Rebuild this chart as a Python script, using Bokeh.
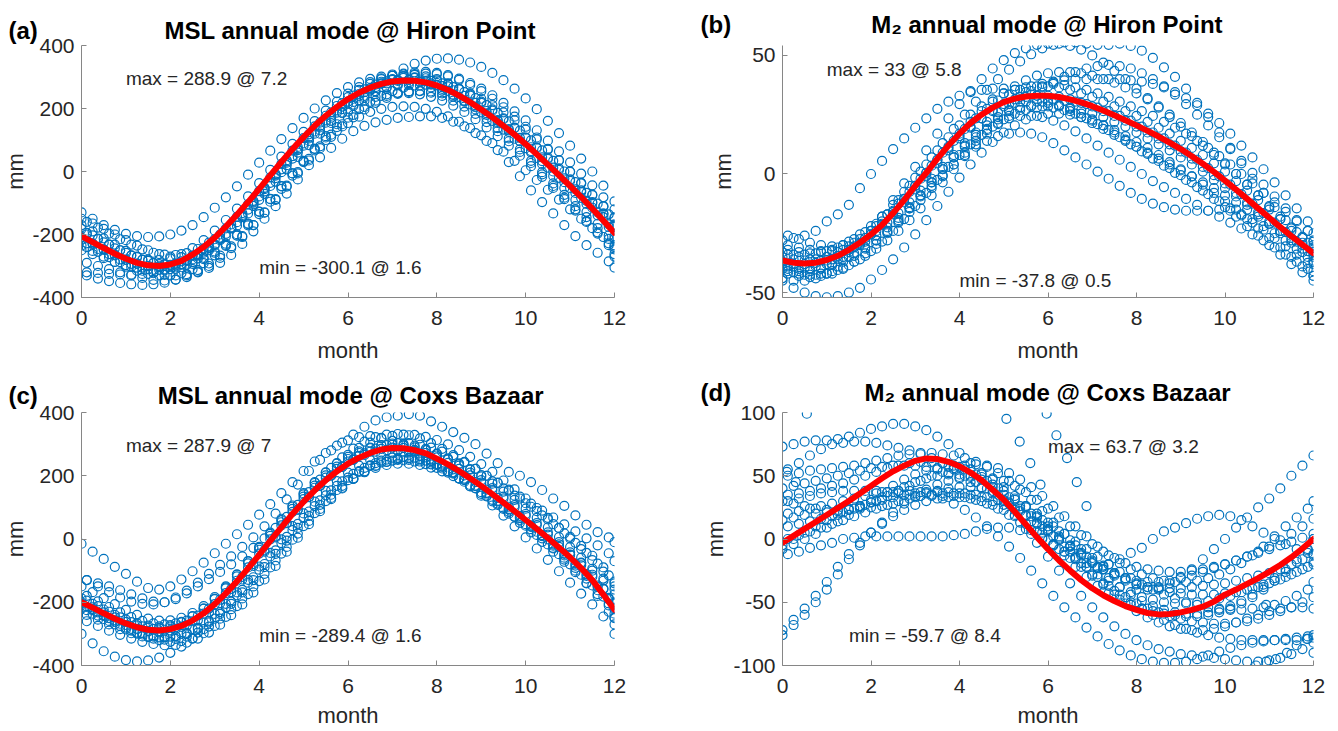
from bokeh.plotting import figure
from bokeh.layouts import gridplot
from bokeh.models import Range1d, FixedTicker, Label
from bokeh.embed import file_html
from bokeh.resources import INLINE

# ---------------- data ----------------
MONTHS = [0, 0.25, 0.5, 0.75, 1, 1.25, 1.5, 1.75, 2, 2.25, 2.5, 2.75, 3, 3.25, 3.5, 3.75,
          4, 4.25, 4.5, 4.75, 5, 5.25, 5.5, 5.75, 6, 6.25, 6.5, 6.75, 7, 7.25, 7.5, 7.75,
          8, 8.25, 8.5, 8.75, 9, 9.25, 9.5, 9.75, 10, 10.25, 10.5, 10.75, 11, 11.25, 11.5, 11.75, 12]
MONTHS_B = [0.12, 0.37, 0.62, 0.87, 1.12, 1.37, 1.62, 1.87, 2.12, 2.37, 2.62, 2.87, 3.12, 3.37, 3.62, 3.87,
            4.12, 4.37, 4.62, 4.87, 5.12, 5.37, 5.62, 5.87, 6.12, 6.37, 6.62, 6.87, 7.12, 7.37, 7.62, 7.87,
            8.12, 8.37, 8.62, 8.87, 9.12, 9.37, 9.62, 9.87, 10.12, 10.37, 10.62, 10.87, 11.12, 11.37, 11.62, 11.87, 12]
X_TICKS = [0, 2, 4, 6, 8, 10, 12]

# (a) MSL annual mode @ Hiron Point
A_MEAN = [-205, -224, -243, -261, -277, -290, -298, -300, -295, -284, -264, -240, -210, -175, -137, -97,
          -55, -12, 30, 71, 109, 145, 177, 205, 230, 250, 266, 278, 286, 289, 288, 283,
          273, 259, 241, 220, 197, 172, 145, 117, 87, 55, 22, -12, -46, -81, -118, -156, -195]
A1 = [-130, -150, -170, -185, -198, -205, -208, -206, -200, -188, -170, -145, -115, -82, -47, -10, 28, 66, 103, 138, 170, 200, 226, 249, 268, 283, 294, 301, 304, 303, 297, 287, 273, 256, 236, 213, 188, 161, 133, 104, 74, 43, 12, -20, -52, -84, -115, -145, -175]
A2 = [-330, -340, -348, -354, -358, -360, -358, -353, -343, -330, -313, -292, -267, -238, -205, -170, -131, -90, -48, -6, 35, 74, 110, 143, 172, 197, 218, 234, 246, 253, 256, 254, 248, 238, 224, 206, 185, 161, 135, 107, 77, 45, 12, -22, -57, -93, -130, -168, -205]
A3 = [-250, -262, -275, -287, -297, -305, -310, -312, -310, -304, -293, -278, -258, -233, -204, -171, -135, -96, -55, -13, 30, 72, 112, 150, 190, 225, 257, 285, 308, 327, 342, 352, 358, 359, 355, 346, 332, 313, 290, 263, 232, 198, 161, 122, 82, 41, 0, -45, -95]
A4 = [-240, -255, -272, -288, -303, -315, -323, -328, -330, -326, -318, -306, -290, -265, -230, -190, -150, -110, -70, -25, 20, 45, 75, 104, 128, 145, 156, 164, 170, 173, 175, 175, 170, 158, 143, 122, 97, 68, 30, -15, -60, -97, -133, -170, -205, -234, -258, -285, -305]
A5 = [-170, -190, -212, -232, -252, -270, -284, -294, -298, -296, -288, -274, -254, -229, -199, -165, -127, -87, -46, -6, 32, 67, 100, 129, 154, 174, 189, 199, 205, 207, 205, 199, 189, 175, 158, 138, 115, 90, 63, 34, 4, -27, -58, -89, -120, -150, -180, -208, -235]
A6 = [-160, -178, -197, -215, -232, -247, -258, -264, -265, -259, -246, -226, -200, -168, -132, -93, -52, -10, 32, 72, 110, 145, 177, 206, 231, 252, 268, 280, 288, 292, 292, 288, 280, 268, 252, 233, 211, 186, 159, 130, 99, 67, 34, 0, -34, -68, -102, -136, -170]
A7 = [-235, -252, -270, -287, -302, -315, -325, -330, -330, -323, -310, -291, -266, -236, -203, -167, -128, -88, -47, -6, 34, 72, 108, 141, 171, 198, 221, 240, 255, 266, 273, 276, 275, 270, 261, 248, 231, 211, 188, 162, 133, 102, 69, 35, 0, -36, -73, -110, -148]
A8 = [-200, -215, -232, -250, -266, -280, -290, -295, -293, -283, -266, -242, -212, -177, -138, -96, -52, -8, 36, 78, 118, 155, 188, 217, 241, 261, 276, 286, 291, 291, 286, 276, 262, 244, 222, 197, 169, 138, 105, 70, 34, -2, -38, -74, -110, -145, -180, -214, -247]
A9 = [-150, -165, -182, -200, -218, -235, -250, -262, -270, -272, -267, -254, -234, -206, -172, -133, -90, -46, -2, 41, 82, 120, 155, 187, 215, 240, 261, 279, 293, 303, 309, 311, 309, 302, 291, 275, 255, 231, 204, 174, 142, 108, 72, 36, -1, -38, -75, -111, -145]
A10 = [-290, -300, -310, -320, -330, -338, -344, -346, -343, -335, -320, -300, -274, -243, -208, -170, -130, -88, -45, -2, 40, 80, 117, 150, 180, 205, 225, 240, 250, 255, 255, 250, 240, 225, 206, 183, 157, 128, 96, 62, 27, -9, -46, -83, -120, -157, -193, -228, -262]
A11 = [-215, -230, -247, -264, -280, -292, -300, -304, -302, -294, -279, -258, -231, -198, -161, -121, -79, -36, 7, 49, 89, 127, 162, 194, 222, 246, 265, 280, 291, 297, 299, 296, 289, 278, 263, 244, 222, 197, 169, 139, 107, 74, 40, 5, -30, -65, -100, -134, -168]
A12 = [-320, -322, -325, -327, -327, -325, -320, -311, -298, -282, -262, -238, -210, -179, -145, -109, -71, -32, 7, 46, 84, 120, 154, 185, 212, 235, 254, 268, 278, 283, 284, 280, 271, 258, 240, 218, 192, 163, 131, 97, 61, 24, -14, -52, -90, -128, -166, -203, -240]
A13 = [-182, -203, -225, -244, -258, -272, -280, -281, -276, -262, -243, -218, -188, -154, -118, -79, -37, 5, 47, 88, 126, 160, 193, 222, 247, 268, 284, 296, 304, 308, 307, 302, 293, 280, 262, 241, 218, 193, 166, 138, 108, 77, 44, 10, -25, -60, -97, -134, -172]
A14 = [-228, -246, -262, -279, -293, -305, -312, -314, -309, -296, -276, -250, -218, -181, -141, -99, -56, -13, 28, 68, 105, 140, 171, 198, 221, 240, 255, 266, 273, 275, 273, 267, 257, 243, 225, 204, 180, 154, 126, 96, 65, 33, 0, -34, -68, -103, -139, -176, -213]
A15 = [-210, -228, -248, -266, -281, -293, -300, -301, -296, -285, -267, -244, -215, -181, -144, -104, -62, -19, 24, 66, 106, 143, 177, 208, 236, 259, 278, 293, 304, 311, 315, 316, 313, 306, 295, 281, 263, 242, 218, 191, 162, 131, 98, 64, 29, -7, -44, -82, -120]
A16 = [-195, -213, -232, -250, -267, -281, -291, -295, -292, -283, -266, -243, -214, -180, -143, -104, -63, -21, 20, 60, 97, 131, 161, 187, 208, 225, 237, 245, 249, 249, 245, 237, 225, 209, 189, 166, 140, 112, 82, 50, 17, -17, -52, -88, -124, -160, -197, -234, -270]

# (b) M2 annual mode @ Hiron Point
B_MEAN = [-36.5, -37.4, -37.8, -37.4, -36.3, -34.5, -32, -29, -25.5, -21.5, -16.5, -11, -5, 0.5, 6.5, 12,
          17, 21.5, 25, 28, 30.3, 31.8, 32.7, 33, 33, 32.5, 31.5, 30.2, 28.6, 26.8, 24.8, 22.7,
          20.5, 18.2, 15.8, 13.2, 10.5, 7.5, 4.3, 0.9, -2.8, -6.6, -10.5, -14.5, -18.5, -22.4, -26.2, -29.8, -33.5]
B1 = [-28, -27, -26, -24, -20, -17, -13, -6, 0, 5.5, 10.5, 15, 19.5, 23.5, 27.5, 30.5, 33, 34.5, 35.5, 36, 36, 35.5, 34.5, 33, 31, 29, 26.5, 24, 21.5, 19, 16.5, 14, 11.5, 9, 6.5, 4, 1.5, -1, -3.5, -6, -9, -12, -15, -18, -21, -24, -27, -30, -33]
B2 = [-40, -41, -41, -40, -38, -35, -31, -27, -22, -17, -11, -5, 1, 7, 13, 19, 25, 30.5, 35.5, 40, 44, 47.5, 50.5, 53, 54.5, 55.5, 55.5, 55, 54.5, 54.5, 55, 54, 52, 49, 45, 41, 36, 30, 24, 17.5, 11, 4.5, -2, -8, -14, -19.5, -24.5, -29, -33]
B3 = [-44, -45, -45, -44, -42, -39, -35, -30, -24, -18, -11, -4, 3, 10, 17, 23.5, 29.5, 35, 40, 44.5, 48, 51, 53, 54.5, 55, 55, 54, 52.5, 50, 47, 43.5, 40, 36, 32, 28, 24, 20, 16, 12, 8, 4, 0, -4.5, -9, -14, -19, -24, -29, -34]
B4 = [-30, -31, -32, -32.5, -32.5, -32, -30.5, -28.5, -26, -22.5, -18.5, -14, -9.5, -5, -0.5, 4, 8, 11.5, 14, 16, 17, 17.5, 17, 15.5, 13, 10, 7, 4, 1, -2, -5, -8, -10.5, -12.5, -14, -15, -15.5, -15.5, -15.5, -15, -15.5, -17, -19, -22, -25, -28, -31.5, -35, -38]
B5 = [-45, -48, -50, -51.5, -52, -51.5, -50, -48, -44.5, -40.5, -36, -31, -25.5, -19.5, -13.5, -7.5, -1.5, 4, 9, 13.5, 17.5, 20.5, 23, 24.5, 25.5, 25.5, 25, 24, 22.5, 20.5, 18.5, 16, 13.5, 11, 8, 5, 2, -1, -4.5, -8, -11.5, -15, -19, -23, -27, -31, -35, -39, -43]
B6 = [-32, -33, -33.5, -33, -32, -30, -27.5, -24.5, -21, -17, -12.5, -7.5, -2, 3.5, 9, 14, 19, 23.5, 27.5, 31, 33.5, 35.5, 37, 38, 38, 37.5, 36.5, 35.5, 34, 32.5, 30.5, 28.5, 26.5, 24.5, 22, 19.5, 17, 14, 11, 7.5, 4, 0, -4, -8, -12, -16, -20, -24, -28]
B7 = [-40, -41.5, -42.5, -42.5, -42, -40.5, -38.5, -36, -32.5, -28.5, -24, -19, -13.5, -8, -2.5, 3, 8, 12.5, 16.5, 20, 23, 25.5, 27, 28, 28.5, 28.5, 28, 27, 25.5, 24, 22, 20, 17.5, 15, 12.5, 10, 7, 4, 1, -2.5, -6, -9.5, -13, -17, -21, -25, -29, -33, -37]
B8 = [-34, -35, -36, -36.5, -36, -35, -33.5, -31, -28, -24.5, -20.5, -16, -11, -6, -1, 4, 9, 14, 18.5, 23, 27, 30.5, 33.5, 36.5, 39, 41, 43, 44.5, 45.5, 46, 45.5, 44.5, 42.5, 40, 37, 33.5, 29.5, 25, 20.5, 15.5, 10.5, 5.5, 0.5, -4.5, -9.5, -14.5, -19.5, -24, -28.5]
B9 = [-38, -39, -39.5, -39, -38, -36, -33, -29.5, -25.5, -21, -16, -10.5, -5, 0.5, 6, 11, 16, 20, 23.5, 26.5, 28.5, 30, 30.5, 30.5, 30, 29, 27.5, 25.5, 23, 20.5, 17.5, 14.5, 11.5, 8.5, 5.5, 2.5, -0.5, -3.5, -7, -10.5, -14, -18, -22, -26, -30, -34, -38, -41.5, -45]
B10 = [-26, -27.5, -29, -30, -30.5, -30, -29, -27, -24, -20.5, -16.5, -12, -7, -2, 3, 8, 13, 17.5, 22, 26, 29.5, 32.5, 35, 37, 38.5, 39.5, 40, 40, 40, 40, 40, 39.5, 39, 38, 36.5, 34.5, 32, 29, 25.5, 21.5, 17, 12, 7, 2, -3.5, -9, -14.5, -20, -25]
B11 = [-37, -38, -38, -37.5, -36.5, -34.5, -32, -29, -25.5, -21.5, -17, -12, -6.5, -1, 4.5, 10, 15, 19.5, 23.5, 27, 29.5, 31.5, 32.5, 33, 33, 32.5, 31.5, 30, 28.5, 26.5, 24.5, 22.5, 20, 17.5, 15, 12.5, 9.5, 6.5, 3, -0.5, -4, -8, -12, -16, -20, -24, -28, -31.5, -35]
B12 = [-42, -43, -43.5, -43, -42, -40, -37, -33.5, -29.5, -25, -20, -14.5, -9, -3.5, 2, 7, 11.5, 15.5, 19, 21.5, 23.5, 24.5, 24.5, 24, 22.5, 20.5, 18, 15, 12, 9, 6, 3, 0, -3, -5.5, -8, -10.5, -13, -15.5, -18, -20.5, -23, -25.5, -28, -31, -34, -37, -40, -43]
B13 = [-33, -34, -34, -33.5, -32.5, -31, -28.5, -25.5, -22, -18, -13, -7.5, -1.5, 4, 10, 15.5, 20.5, 25, 28.5, 31.5, 34, 35.5, 36.5, 37, 37, 36.5, 35.5, 34, 32.5, 30.5, 28.5, 26.5, 24.5, 22, 19.5, 17, 14, 11, 8, 4.5, 1, -3, -7, -11, -15, -19, -23, -26.5, -30]
B14 = [-41, -42, -42.5, -42, -41, -39.5, -37, -34.5, -31.5, -28, -24, -19.5, -14.5, -9, -3.5, 2, 7.5, 12.5, 17, 21, 24.5, 27, 29, 30.5, 31, 31, 30.5, 29.5, 28, 26.5, 24.5, 22.5, 20, 17.5, 15, 12, 9, 6, 2.5, -1, -4.5, -8.5, -12.5, -16.5, -20.5, -24.5, -28.5, -32.5, -36.5]
B15 = [-35, -36, -36.5, -36, -35, -33, -30.5, -27.5, -24, -20, -15.5, -10.5, -5, 0.5, 6, 11.5, 17, 22, 26.5, 30.5, 34, 37, 39.5, 41.5, 42.5, 43, 43, 42.5, 41.5, 40, 38.5, 36.5, 34, 31.5, 28.5, 25, 21.5, 17.5, 13.5, 9, 4.5, 0, -4.5, -9, -13.5, -18, -22.5, -27, -31]
B16 = [-39, -40, -40, -39.5, -38.5, -37, -34.5, -31.5, -28, -24, -19.5, -14.5, -9, -3.5, 2, 7, 12, 16.5, 20.5, 24, 26.5, 28, 28.5, 28.5, 28, 27, 25.5, 23.5, 21, 18.5, 15.5, 12.5, 9.5, 6.5, 3.5, 0.5, -2.5, -5.5, -8.5, -11.5, -14.5, -17.5, -20.5, -23.5, -27, -30.5, -34, -37.5, -41]

# (c) MSL annual mode @ Coxs Bazaar
C_MEAN = [-200, -217, -235, -252, -267, -279, -287, -289, -285, -275, -258, -235, -206, -172, -134, -93,
          -50, -6, 37, 79, 118, 154, 186, 214, 238, 257, 272, 283, 288, 287, 281, 271,
          254, 236, 215, 192, 168, 142, 115, 88, 60, 32, 3, -27, -58, -92, -130, -176, -224]
C1 = [-15, -40, -63, -88, -110, -135, -155, -160, -150, -128, -102, -75, -45, -15, 15, 45, 77, 110, 145, 180, 215, 245, 272, 295, 312, 322, 325, 320, 310, 296, 278, 258, 237, 214, 191, 167, 143, 119, 95, 71, 47, 23, -1, -25, -50, -75, -100, -125, -150]
C2 = [-130, -150, -168, -185, -198, -205, -207, -200, -185, -163, -138, -110, -82, -55, -25, 5, 40, 80, 125, 172, 215, 250, 280, 305, 330, 355, 375, 385, 390, 395, 390, 372, 355, 338, 320, 300, 270, 240, 212, 200, 180, 155, 128, 105, 75, 45, 22, 5, -10]
C3 = [-300, -330, -355, -372, -383, -387, -384, -375, -360, -340, -315, -285, -252, -216, -178, -138, -97, -55, -13, 28, 67, 104, 138, 168, 194, 215, 231, 242, 248, 249, 245, 237, 225, 210, 192, 171, 148, 124, 98, 70, 42, 13, -17, -48, -80, -113, -147, -182, -218]
C4 = [-240, -255, -270, -285, -298, -308, -315, -318, -316, -309, -296, -277, -252, -222, -188, -150, -110, -68, -25, 17, 57, 95, 130, 162, 190, 213, 231, 244, 252, 255, 253, 246, 235, 220, 201, 180, 156, 130, 102, 73, 43, 10, -30, -65, -100, -140, -180, -230, -270]
C5 = [-210, -225, -243, -262, -280, -296, -310, -320, -325, -323, -314, -298, -275, -246, -212, -174, -133, -90, -46, -2, 41, 82, 120, 155, 186, 212, 233, 248, 257, 260, 257, 248, 234, 215, 192, 166, 137, 106, 74, 40, 5, -30, -66, -102, -138, -173, -207, -245, -300]
C6 = [-180, -197, -215, -232, -247, -259, -267, -270, -267, -258, -242, -220, -192, -158, -120, -79, -36, 8, 51, 93, 132, 168, 200, 228, 252, 271, 286, 297, 303, 303, 298, 289, 276, 260, 242, 222, 200, 177, 153, 128, 102, 75, 47, 18, -12, -44, -78, -115, -160]
C7 = [-220, -236, -253, -270, -286, -299, -308, -311, -309, -300, -285, -264, -237, -205, -169, -129, -87, -44, -1, 41, 81, 118, 152, 183, 210, 232, 250, 263, 272, 276, 276, 272, 264, 252, 237, 219, 198, 175, 150, 124, 96, 67, 37, 6, -26, -59, -94, -132, -175]
C8 = [-195, -212, -230, -248, -263, -276, -284, -287, -284, -274, -257, -233, -203, -168, -128, -85, -40, 5, 50, 93, 133, 169, 201, 228, 250, 266, 276, 281, 280, 274, 263, 248, 230, 209, 186, 161, 135, 108, 80, 51, 21, -9, -40, -72, -105, -139, -174, -210, -248]
C9 = [-150, -168, -187, -206, -224, -240, -252, -258, -257, -249, -234, -212, -184, -150, -112, -71, -28, 16, 60, 102, 141, 177, 210, 240, 266, 288, 305, 318, 326, 330, 329, 323, 313, 299, 281, 260, 237, 212, 185, 157, 128, 98, 67, 35, 2, -32, -67, -103, -140]
C10 = [-260, -275, -290, -303, -315, -325, -332, -336, -335, -328, -315, -296, -271, -241, -207, -169, -128, -85, -40, 4, 47, 88, 126, 160, 190, 214, 232, 244, 250, 250, 245, 236, 223, 207, 188, 167, 144, 119, 93, 66, 38, 9, -21, -52, -84, -117, -151, -186, -222]
C11 = [-205, -222, -240, -257, -272, -284, -291, -293, -289, -278, -260, -236, -206, -171, -132, -90, -46, -1, 43, 86, 126, 162, 194, 222, 245, 263, 276, 285, 289, 288, 282, 272, 258, 241, 222, 201, 178, 154, 128, 101, 73, 44, 14, -17, -49, -83, -119, -158, -200]
C12 = [-130, -140, -150, -162, -175, -188, -198, -200, -190, -172, -150, -127, -104, -80, -55, -28, 2, 35, 70, 108, 148, 188, 225, 258, 286, 308, 322, 330, 332, 328, 318, 303, 285, 265, 244, 222, 200, 178, 156, 134, 112, 90, 68, 46, 24, 2, -20, -45, -70]
C13 = [-188, -205, -223, -240, -255, -266, -274, -276, -272, -262, -244, -220, -190, -156, -118, -77, -34, 10, 53, 95, 134, 169, 201, 229, 253, 272, 287, 297, 302, 301, 295, 285, 270, 252, 232, 210, 186, 161, 134, 107, 79, 50, 21, -10, -42, -76, -113, -157, -204]
C14 = [-225, -242, -259, -275, -290, -302, -309, -311, -307, -297, -281, -259, -231, -198, -161, -121, -79, -36, 7, 48, 87, 122, 154, 182, 206, 225, 240, 251, 256, 256, 251, 242, 228, 211, 191, 169, 146, 121, 95, 68, 40, 12, -17, -47, -78, -111, -147, -190, -236]
C15 = [-200, -216, -232, -248, -262, -273, -280, -281, -276, -264, -245, -220, -189, -153, -113, -70, -25, 20, 64, 106, 145, 180, 211, 238, 260, 277, 289, 296, 298, 296, 290, 281, 269, 255, 239, 221, 202, 182, 160, 137, 113, 88, 62, 35, 7, -22, -53, -90, -135]
C16 = [-215, -232, -250, -268, -284, -297, -306, -310, -308, -300, -285, -264, -237, -205, -169, -130, -89, -47, -5, 35, 73, 108, 140, 168, 192, 211, 225, 234, 238, 238, 234, 226, 214, 199, 181, 160, 137, 112, 86, 59, 31, 2, -28, -59, -91, -125, -162, -204, -250]

# (d) M2 annual mode @ Coxs Bazaar
D_MEAN = [-3, 2.5, 8, 13.5, 19, 24.5, 30, 36, 42, 48, 53.5, 58, 61.8, 63.7, 63.2, 61,
          57.5, 52.5, 46.5, 39, 31, 21.5, 11.5, 1.5, -8, -17, -25, -32.5, -39, -44.5, -49, -53,
          -56, -58.5, -59.6, -59.3, -58, -56, -53.5, -49.5, -44, -40, -35.5, -31, -26, -20.5, -14.5, -7.5, 0]
D1 = [73, 75, 77, 78, 78, 79, 81, 84, 87, 89, 91, 91, 89, 86, 81, 75, 68, 60, 51, 41, 30, 19, 8, -3, -14, -25, -35, -45, -54, -62, -69, -75, -80, -84, -87, -89, -91, -92, -93, -94, -95, -96, -97, -97, -96, -94, -91, -87, -82]
D2 = [55, 60, 66, 71, 75, 76, 77, 77, 76, 74, 72, 70, 67, 64, 60, 55, 50, 45, 40, 35, 29, 22, 14, 5, -4, -13, -22, -30, -37, -43, -48, -52, -55, -57, -59, -60, -61, -61, -60, -58, -55, -51, -46, -40, -33, -26, -18, -9, 0]
D3 = [-76, -68, -60, -50, -40, -28, -16, -5, 5, 13, 21, 28, 34, 39, 43, 46, 48, 49, 49, 48, 46, 42, 37, 31, 24, 17, 10, 3, -4, -10, -15, -19, -22, -24, -25, -26, -26, -25, -24, -22, -20, -17, -14, -10, -6, -1, 4, 10, 16]
D4 = [-12, -10, -7, -5, -3, 0, 1, 2, 2, 2, 2, 2, 2, 2, 2, 3, 4, 6, 8, 9, 9, 7, 4, 0, -5, -10, -16, -22, -28, -33, -38, -42, -46, -48, -50, -51, -51, -50, -49, -47, -45, -42, -39, -36, -33, -30, -26, -22, -18]
D5 = [-72, -64, -55, -45, -34, -22, -12, -3, 5, 12, 18, 23, 27, 30, 32, 33, 33, 32, 30, 27, 23, 18, 12, 6, -1, -8, -15, -22, -29, -35, -41, -46, -51, -55, -58, -61, -63, -65, -66, -67, -67, -66, -65, -63, -60, -57, -54, -50, -46]
D6 = [30, 32, 34, 36, 37, 38, 38, 38, 38, 37, 36, 35, 34, 34, 34, 34, 33, 31, 28, 24, 19, 13, 7, 1, -5, -10, -15, -19, -22, -20, -16, -11, -7, 0, 6, 9, 12.5, 16, 18, 19, 18, 15, 10, 5, 0, -4, -8, -11, -13]
D7 = [15, 17, 19, 20, 21, 22, 23, 24, 25, 26, 28, 30, 33, 36, 38, 40, 41, 41, 40, 38, 35, 31, 26, 20, 13, 6, -1, -8, -15, -21, -27, -32, -40, -40, -38, -35, -30, -24, -16, -8, 0, 9, 17, 25, 32, 40, 50, 58, 66]
D8 = [20, 22, 24, 26, 28, 30, 32, 34, 36, 37, 38, 38, 37, 35, 32, 28, 23, 17, 10, 2, -6, -15, -25, -35, -45, -54, -62, -70, -77, -83, -88, -92, -95, -97, -98, -98, -97, -95, -92, -89, -86, -84, -82, -81, -80, -79, -78, -77, -76]
D9 = [-5, 0, 5, 10, 15, 19, 23, 26, 29, 31, 33, 35, 36, 37, 37, 37, 36, 35, 33, 30, 27, 23, 18, 12, 6, 0, -6, -12, -18, -24, -29, -33, -36, -38, -39, -39, -39, -38, -37, -36, -35, -33, -31, -29, -27, -24, -20, -16, -12]
D10 = [50, 52, 54, 55, 56, 57, 58, 60, 62, 64, 66, 67, 68, 68, 67, 66, 64, 61, 57, 52, 46, 39, 31, 22, 13, 4, -5, -14, -23, -31, -38, -44, -49, -53, -56, -58, -59, -59, -58, -56, -53, -49, -44, -38, -31, -24, -16, -8, 0]
D11 = [30, 28, 26, 24, 23, 23, 24, 26, 29, 33, 37, 41, 45, 48, 50, 51, 51, 50, 47, 43, 38, 32, 25, 17, 8, -1, -10, -19, -28, -36, -44, -51, -57, -62, -66, -69, -71, -72, -72, -71, -69, -66, -63, -60, -57, -55, -54, -54, -55]
D12 = [10, 12, 14, 16, 18, 21, 24, 27, 30, 34, 38, 42, 46, 50, 53, 56, 58, 59, 58, 56, 52, 47, 41, 34, 26, 18, 10, 2, -6, -13, -19, -24, -28, -31, -33, -34, -34, -33, -31, -28, -24, -19, -13, -6, 2, 10, 17, 24, 30]
D13 = [40, 42, 44, 46, 48, 50, 52, 54, 56, 57, 58, 58, 58, 57, 55, 52, 49, 45, 41, 36, 31, 25, 19, 13, 7, 1, -5, -11, -17, -22, -27, -31, -35, -38, -40, -42, -43, -44, -44, -44, -43, -42, -40, -38, -35, -32, -28, -24, -20]
D14 = [0, 3, 6, 9, 12, 15, 18, 21, 24, 27, 30, 32, 34, 35, 36, 36, 36, 35, 33, 31, 28, 24, 20, 15, 10, 4, -2, -8, -14, -20, -26, -31, -36, -40, -44, -47, -50, -52, -54, -55, -56, -56, -55, -54, -52, -49, -45, -40, -34]
D15 = [-8, -4, 0, 4, 9, 14, 19, 25, 31, 37, 42, 47, 51, 54, 56, 57, 57, 55, 52, 47, 41, 34, 26, 18, 10, 2, -6, -13, -19, -24, -28, -31, -33, -34, -34, -33, -31, -29, -26, -23, -20, -17, -14, -11, -8, -5, -2, 1, 4]
D16 = [35, 36, 38, 40, 42, 44, 47, 50, 53, 56, 58, 60, 61, 61, 60, 58, 55, 51, 46, 40, 33, 26, 18, 10, 2, -6, -14, -22, -30, -37, -44, -50, -55, -60, -64, -68, -71, -74, -76, -78, -79, -80, -80, -80, -80, -80, -80, -79, -78]
D_EXTRA_X = [0.55, 5.06, 5.36, 5.6, 5.83, 5.97, 6.19, 6.43, 6.65, 6.87, 10.7, 10.93, 11.15, 11.4, 11.62, 11.85, 12.0, 10.93, 0.1, 0.3]
D_EXTRA_Y = [99, 95, 77, 60, 43, 99, 82, 64, 45, 26, -100, -97, -95, -90, -84, -79, -90, -52, 53, 45]

A_CURVES = [A1, A2, A3, A4, A5, A6, A7, A8, A9, A10, A11, A12, A13, A14, A15, A16]
B_CURVES = [B1, B2, B3, B4, B5, B6, B7, B8, B9, B10, B11, B12, B13, B14, B15, B16]
C_CURVES = [C1, C2, C3, C4, C5, C6, C7, C8, C9, C10, C11, C12, C13, C14, C15, C16]
D_CURVES = [D1, D2, D3, D4, D5, D6, D7, D8, D9, D10, D11, D12, D13, D14, D15, D16]

FONT = "Liberation Sans"
BLUE = "#0072BD"
AXIS_GRAY = "#868686"
TEXT_DARK = "#262626"
NB = "\u00a0"


def panel(curves, mean, yrange, yticks, width, height, borders, title, title_offset,
          title_standoff, mm_standoff, month_standoff, notes, extra_x=None, extra_y=None):
    left, right, top, bottom = borders
    p = figure(width=width, height=height, x_range=Range1d(0, 12),
               y_range=Range1d(*yrange), output_backend="svg",
               toolbar_location=None, min_border_left=left,
               min_border_right=right, min_border_top=top,
               min_border_bottom=bottom)
    p.title.text = title
    p.title.align = "left"
    p.title.offset = title_offset
    p.title.standoff = title_standoff
    p.title.text_font = FONT
    p.title.text_font_size = "24px"
    p.title.text_font_style = "bold"
    p.title.text_color = "black"
    p.outline_line_color = None
    p.xgrid.visible = False
    p.ygrid.visible = False
    p.background_fill_color = "white"
    p.border_fill_color = "white"

    xs, ys = [], []
    for i, c in enumerate(curves):
        xs.extend(MONTHS if i % 2 == 0 else MONTHS_B)
        ys.extend(c)
    if extra_x is not None:
        xs.extend(extra_x)
        ys.extend(extra_y)
    p.scatter(xs, ys, marker="circle", size=9, fill_color=None,
              line_color=BLUE, line_width=1.2)
    p.line(MONTHS, mean, line_color="#FF0000", line_width=6,
           line_join="round", line_cap="round")

    p.xaxis.ticker = FixedTicker(ticks=X_TICKS)
    p.yaxis.ticker = FixedTicker(ticks=yticks)
    p.yaxis.major_label_overrides = {v: str(v) for v in yticks}
    for ax in (p.xaxis[0], p.yaxis[0]):
        ax.axis_line_color = AXIS_GRAY
        ax.major_tick_line_color = AXIS_GRAY
        ax.minor_tick_line_color = None
        ax.major_tick_in = 5
        ax.major_tick_out = 0
        ax.major_label_text_font = FONT
        ax.major_label_text_font_size = "21px"
        ax.major_label_text_color = TEXT_DARK
        ax.axis_label_text_font = FONT
        ax.axis_label_text_font_size = "22px"
        ax.axis_label_text_font_style = "normal"
        ax.axis_label_text_color = TEXT_DARK
    p.xaxis.major_label_standoff = 13
    p.yaxis.major_label_standoff = 7
    p.xaxis.axis_label = "month"
    p.yaxis.axis_label = "mm"
    p.xaxis.axis_label_standoff = month_standoff
    p.yaxis.axis_label_standoff = mm_standoff

    for (txt, x, y) in notes:
        p.add_layout(Label(x=x, y=y, text=txt, text_font=FONT,
                           text_font_size="19px", text_color=TEXT_DARK,
                           text_align="left", text_baseline="middle"))
    return p


pa = panel(A_CURVES, A_MEAN, (-400, 400), [-400, -200, 0, 200, 400], 669, 369,
           (81, 55, 45, 72), "(a)" + NB * 19 + "MSL annual mode @ Hiron Point", -73, 4, 1, 10,
           [("max = 288.9 @ 7.2", 1, 295), ("min = -300.1 @ 1.6", 4, -305)])
pb = panel(B_CURVES, B_MEAN, (-52.1, 54.2), [-50, 0, 50], 665, 369,
           (113, 21, 45, 72), "(b)" + NB * 21 + "M\u2082 annual mode @ Hiron Point", -82, 15, 6, 10,
           [("max = 33 @ 5.8", 1, 44), ("min = -37.8 @ 0.5", 4, -45)])
pc = panel(C_CURVES, C_MEAN, (-400, 400), [-400, -200, 0, 200, 400], 669, 362,
           (81, 55, 43, 66), "(c)" + NB * 18 + "MSL annual mode @ Coxs Bazaar", -73, 7, 1, 7,
           [("max = 287.9 @ 7", 1, 296), ("min = -289.4 @ 1.6", 4, -305)])
pd = panel(D_CURVES, D_MEAN, (-100, 100), [-100, -50, 0, 50, 100], 665, 362,
           (113, 21, 43, 66), "(d)" + NB * 20 + "M\u2082 annual mode @ Coxs Bazaar", -82, 13, 2, 7,
           [("max = 63.7 @ 3.2", 6, 73), ("min = -59.7 @ 8.4", 1.5, -76)],
           extra_x=D_EXTRA_X, extra_y=D_EXTRA_Y)

grid = gridplot([[pa, pb], [pc, pd]], toolbar_location=None)

with open("out.html", "w") as f:
    f.write(file_html(grid, INLINE))
